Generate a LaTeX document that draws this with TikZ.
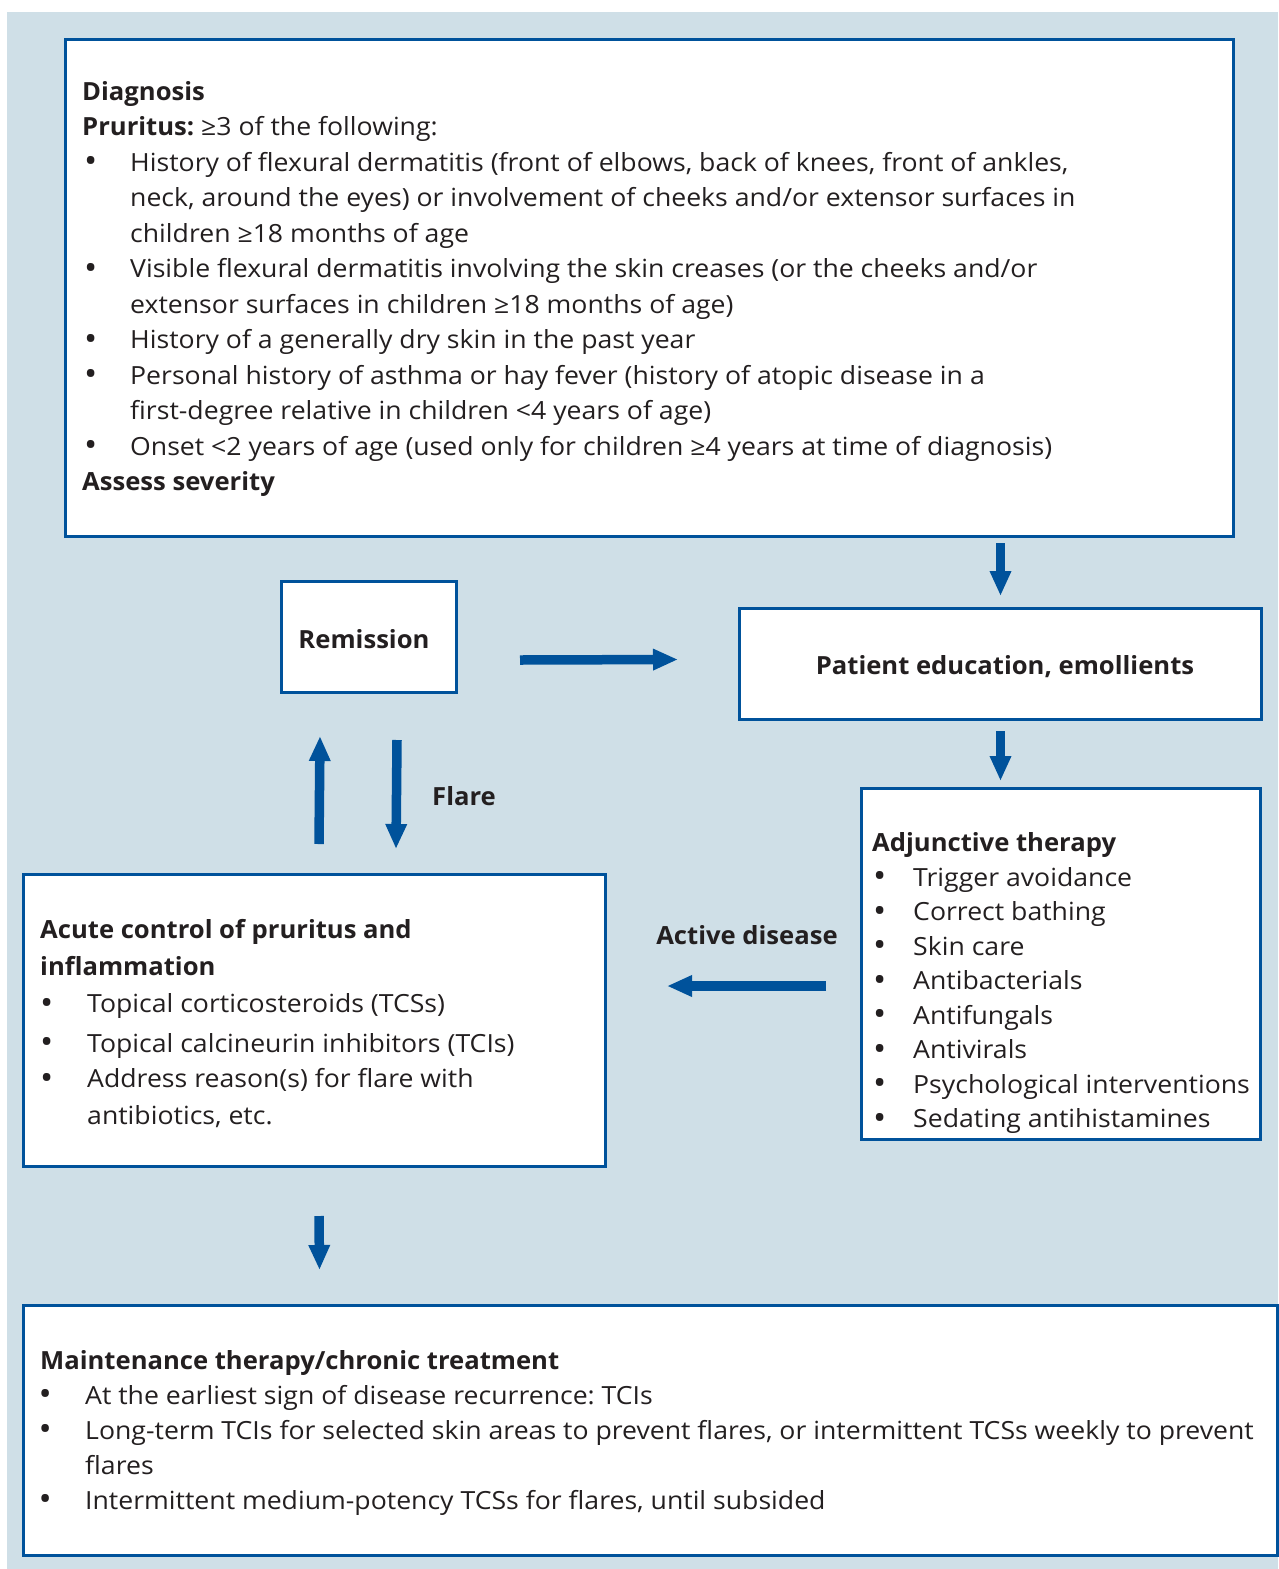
\documentclass[tikz,border=0pt]{standalone}
\usepackage{fontspec}
\setmainfont{Open Sans}[FakeStretch=1.065, BoldFeatures={FakeStretch=1.025}]
\usetikzlibrary{arrows.meta,calc}
\definecolor{bgblue}{RGB}{207,223,231}
\definecolor{dblue}{RGB}{0,82,155}
\definecolor{txt}{RGB}{35,31,32}
\newcommand\bigbul{\raisebox{-1.8pt}{\fontsize{33}{0}\selectfont\textbullet}}
\newcommand\bitem[2]{\makebox[#2pt][l]{\hspace{#1pt}\bigbul}}
\newcommand\cont[1]{\hspace*{#1pt}}
\frenchspacing
\begin{document}
\frenchspacing
\begin{tikzpicture}[x=1pt,y=-1pt,
  box/.style={draw=dblue, line width=3pt, fill=white, inner sep=0pt, anchor=north west},
  arr/.style={draw=dblue, line width=9.5pt, -{Triangle[width=20pt,length=25pt]}},
  body/.style={inner sep=0pt, anchor=base west, text=txt, font=\fontsize{25}{35.5}\selectfont},
  lbl/.style={inner sep=0pt, text=txt, font=\fontsize{25}{35.5}\selectfont\bfseries}]
\useasboundingbox (0,0) rectangle (1278,1569);
\fill[bgblue] (7,12) rectangle (1278,1569);
% boxes
\node[box, minimum width=1168pt, minimum height=497pt] (diag) at (64,38) {};
\node[box, minimum width=175pt, minimum height=111pt] (rem) at (280,580) {};
\node[box, minimum width=522pt, minimum height=111pt] (pe) at (738,607) {};
\node[box, minimum width=399pt, minimum height=351pt] (adj) at (860,787) {};
\node[box, minimum width=582pt, minimum height=292pt] (acute) at (22,873) {};
\node[box, minimum width=1254pt, minimum height=250pt] (maint) at (22,1304) {};
% texts
\node[body] (diagt) at (82,100) {\begin{tabular}[t]{@{}l@{}}
\textbf{Diagnosis}\\
\textbf{Pruritus:} ≥3 of the following:\\
\bitem{2}{48}History of flexural dermatitis (front of elbows, back of knees, front of ankles,\\
\cont{48}neck, around the eyes) or involvement of cheeks and/or extensor surfaces in\\
\cont{48}children ≥18 months of age\\
\bitem{2}{48}Visible flexural dermatitis involving the skin creases (or the cheeks and/or\\
\cont{48}extensor surfaces in children ≥18 months of age)\\
\bitem{2}{48}History of a generally dry skin in the past year\\
\bitem{2}{48}Personal history of asthma or hay fever (history of atopic disease in a\\
\cont{48}first-degree relative in children <4 years of age)\\
\bitem{2}{48}Onset <2 years of age (used only for children ≥4 years at time of diagnosis)\\
\textbf{Assess severity}
\end{tabular}};
\node[lbl, anchor=base] (remt) at (364,648) {Remission};
\node[lbl, anchor=base] (pet) at (1005,674) {Patient education, emollients};
\node[body, font=\fontsize{25}{34.5}\selectfont] (adjt) at (872,851.5) {\begin{tabular}[t]{@{}l@{}}
\textbf{Adjunctive therapy}\\
\bitem{1}{41}Trigger avoidance\\
\bitem{1}{41}Correct bathing\\
\bitem{1}{41}Skin care\\
\bitem{1}{41}Antibacterials\\
\bitem{1}{41}Antifungals\\
\bitem{1}{41}Antivirals\\
\bitem{1}{41}Psychological interventions\\
\bitem{1}{41}Sedating antihistamines
\end{tabular}};
\node[body] (acutet) at (40,938) {\begin{tabular}[t]{@{}l@{}}
\textbf{Acute control of pruritus and}\\[1.5pt]
\textbf{inflammation}\\[2pt]
\bitem{0}{47}Topical corticosteroids (TCSs)\\[4pt]
\bitem{0}{47}Topical calcineurin inhibitors (TCIs)\\
\bitem{0}{47}Address reason(s) for flare with\\[1pt]
\cont{47}antibiotics, etc.
\end{tabular}};
\node[body, font=\fontsize{25}{35}\selectfont] (maintt) at (40,1369) {\begin{tabular}[t]{@{}l@{}}
\textbf{Maintenance therapy/chronic treatment}\\
\bitem{-1.5}{45}At the earliest sign of disease recurrence: TCIs\\
\bitem{-1.5}{45}Long-term TCIs for selected skin areas to prevent flares, or intermittent TCSs weekly to prevent\\
\cont{45}flares\\
\bitem{-1.5}{45}Intermittent medium-potency TCSs for flares, until subsided
\end{tabular}};
\node[lbl, anchor=base west] (flare) at (432,805) {Flare};
\node[lbl, anchor=base] (active) at (747,944) {Active disease};
% arrows
\draw[arr] ([yshift=-5pt]diag.south -| pe.north) -- ([yshift=11pt]pe.north);
\draw[arr] ($(rem.east)+(62,23)$) -- ($(pe.west)+(-60,-4.5)$);
\draw[arr] ([yshift=-10pt]pe.south) -- ([yshift=6pt]adj.north -| pe.south);
\draw[arr] ($(acute.north)+(4.5,-29)$) -- ($(rem.south)+(-49,42)$);
\draw[arr] ($(rem.south)+(28,46)$) -- ($(acute.north)+(81.5,-24)$);
\draw[arr] ($(adj.west)+(-34,22)$) -- ($(acute.east)+(60,-34.5)$);
\draw[arr] ($(acute.south)+(4.5,48)$) -- ($(maint.north)+(-331,-34)$);
\end{tikzpicture}
\end{document}
